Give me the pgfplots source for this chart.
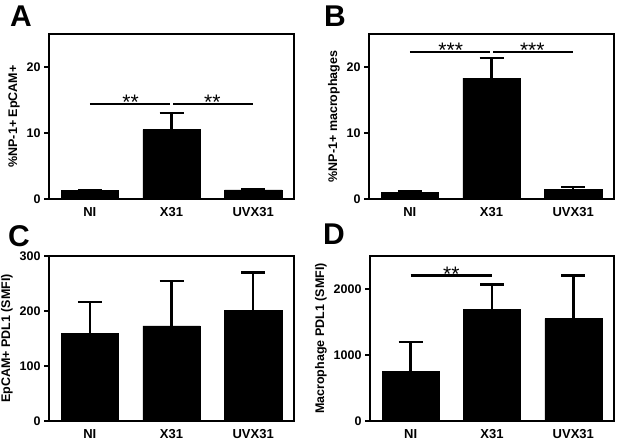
\documentclass[border=0pt]{standalone}
\usepackage{fontspec}
\setmainfont{Liberation Sans}
\usepackage{pgfplots}
\pgfplotsset{compat=1.18}
\tikzset{stars/.style={font=\fontsize{21}{21}\selectfont, anchor=base, yshift=-6pt},
  sig/.style={black, line width=2.2pt}}
\pgfplotsset{panel/.style={
  scale only axis, width=245pt, height=165pt,
  xmin=-0.5, xmax=2.5, ymin=0,
  xtick={0,1,2}, xticklabels={NI,X31,UVX31},
  axis line style={line width=1.8pt},
  tick style={line width=1.8pt, black},
  xtick style={draw=none},
  tick align=outside, major tick length=5pt,
  ytick pos=left,
  /pgf/number format/assume math mode=true,
  /pgf/number format/1000 sep={},
  yticklabel style={font=\fontsize{12.5}{14}\selectfont\bfseries},
  xticklabel style={font=\fontsize{13}{15}\selectfont\bfseries},
  ylabel style={font=\fontsize{12.5}{14}\selectfont\bfseries},
  clip=false,
  anchor=south west,
},
barplot/.style={ybar, bar width=0.7, fill=black, draw=black,
  error bars/.cd, y dir=plus, y explicit,
  error bar style={line width=2.4pt},
  error mark options={rotate=90, mark size=12pt, line width=2.4pt}}
}
\begin{document}
\begin{tikzpicture}[x=1pt,y=1pt]
\useasboundingbox (0,0) rectangle (624,443);
% Panel A
\begin{axis}[panel, at={(49pt,244pt)}, ymax=25, ytick={0,10,20},
  ylabel={\%NP-1+ EpCAM+}]
\addplot[barplot] coordinates {(0,1.3) +- (0,0.1) (1,10.5) +- (0,2.5) (2,1.4) +- (0,0.1)};
\addplot[sig, no marks] coordinates {(0,14.4) (0.98,14.4)};
\addplot[sig, no marks] coordinates {(1.02,14.4) (2,14.4)};
\node[stars] at (axis cs:0.5,14.4) {**};
\node[stars] at (axis cs:1.5,14.4) {**};
\end{axis}
% Panel B
\begin{axis}[panel, at={(369pt,244pt)}, ymax=25, ytick={0,10,20},
  ylabel={\%NP-1+ macrophages}]
\addplot[barplot] coordinates {(0,1.05) +- (0,0.1) (1,18.3) +- (0,3.1) (2,1.5) +- (0,0.3)};
\addplot[sig, no marks] coordinates {(0,22.3) (0.98,22.3)};
\addplot[sig, no marks] coordinates {(1.02,22.3) (2,22.3)};
\node[stars] at (axis cs:0.5,22.3) {***};
\node[stars] at (axis cs:1.5,22.3) {***};
\end{axis}
% Panel C
\begin{axis}[panel, at={(49pt,22pt)}, ymax=300, ytick={0,100,200,300},
  ylabel={EpCAM+ PDL1 (SMFI)}]
\addplot[barplot] coordinates {(0,159) +- (0,57) (1,173) +- (0,81) (2,201) +- (0,69)};
\end{axis}
% Panel D
\begin{axis}[panel, at={(370pt,22pt)}, width=244pt, ymax=2500, ytick={0,1000,2000},
  ylabel={Macrophage PDL1 (SMFI)}]
\addplot[barplot] coordinates {(0,751) +- (0,448) (1,1692) +- (0,378) (2,1552) +- (0,652)};
\addplot[sig, no marks] coordinates {(0,2204) (1,2204)};
\node[stars] at (axis cs:0.5,2204) {**};
\end{axis}
\node[font=\fontsize{30}{30}\selectfont\bfseries] at (21,427) {A};
\node[font=\fontsize{30}{30}\selectfont\bfseries] at (335,427) {B};
\node[font=\fontsize{30}{30}\selectfont\bfseries] at (19,207) {C};
\node[font=\fontsize{30}{30}\selectfont\bfseries] at (334,209) {D};
\end{tikzpicture}
\end{document}
